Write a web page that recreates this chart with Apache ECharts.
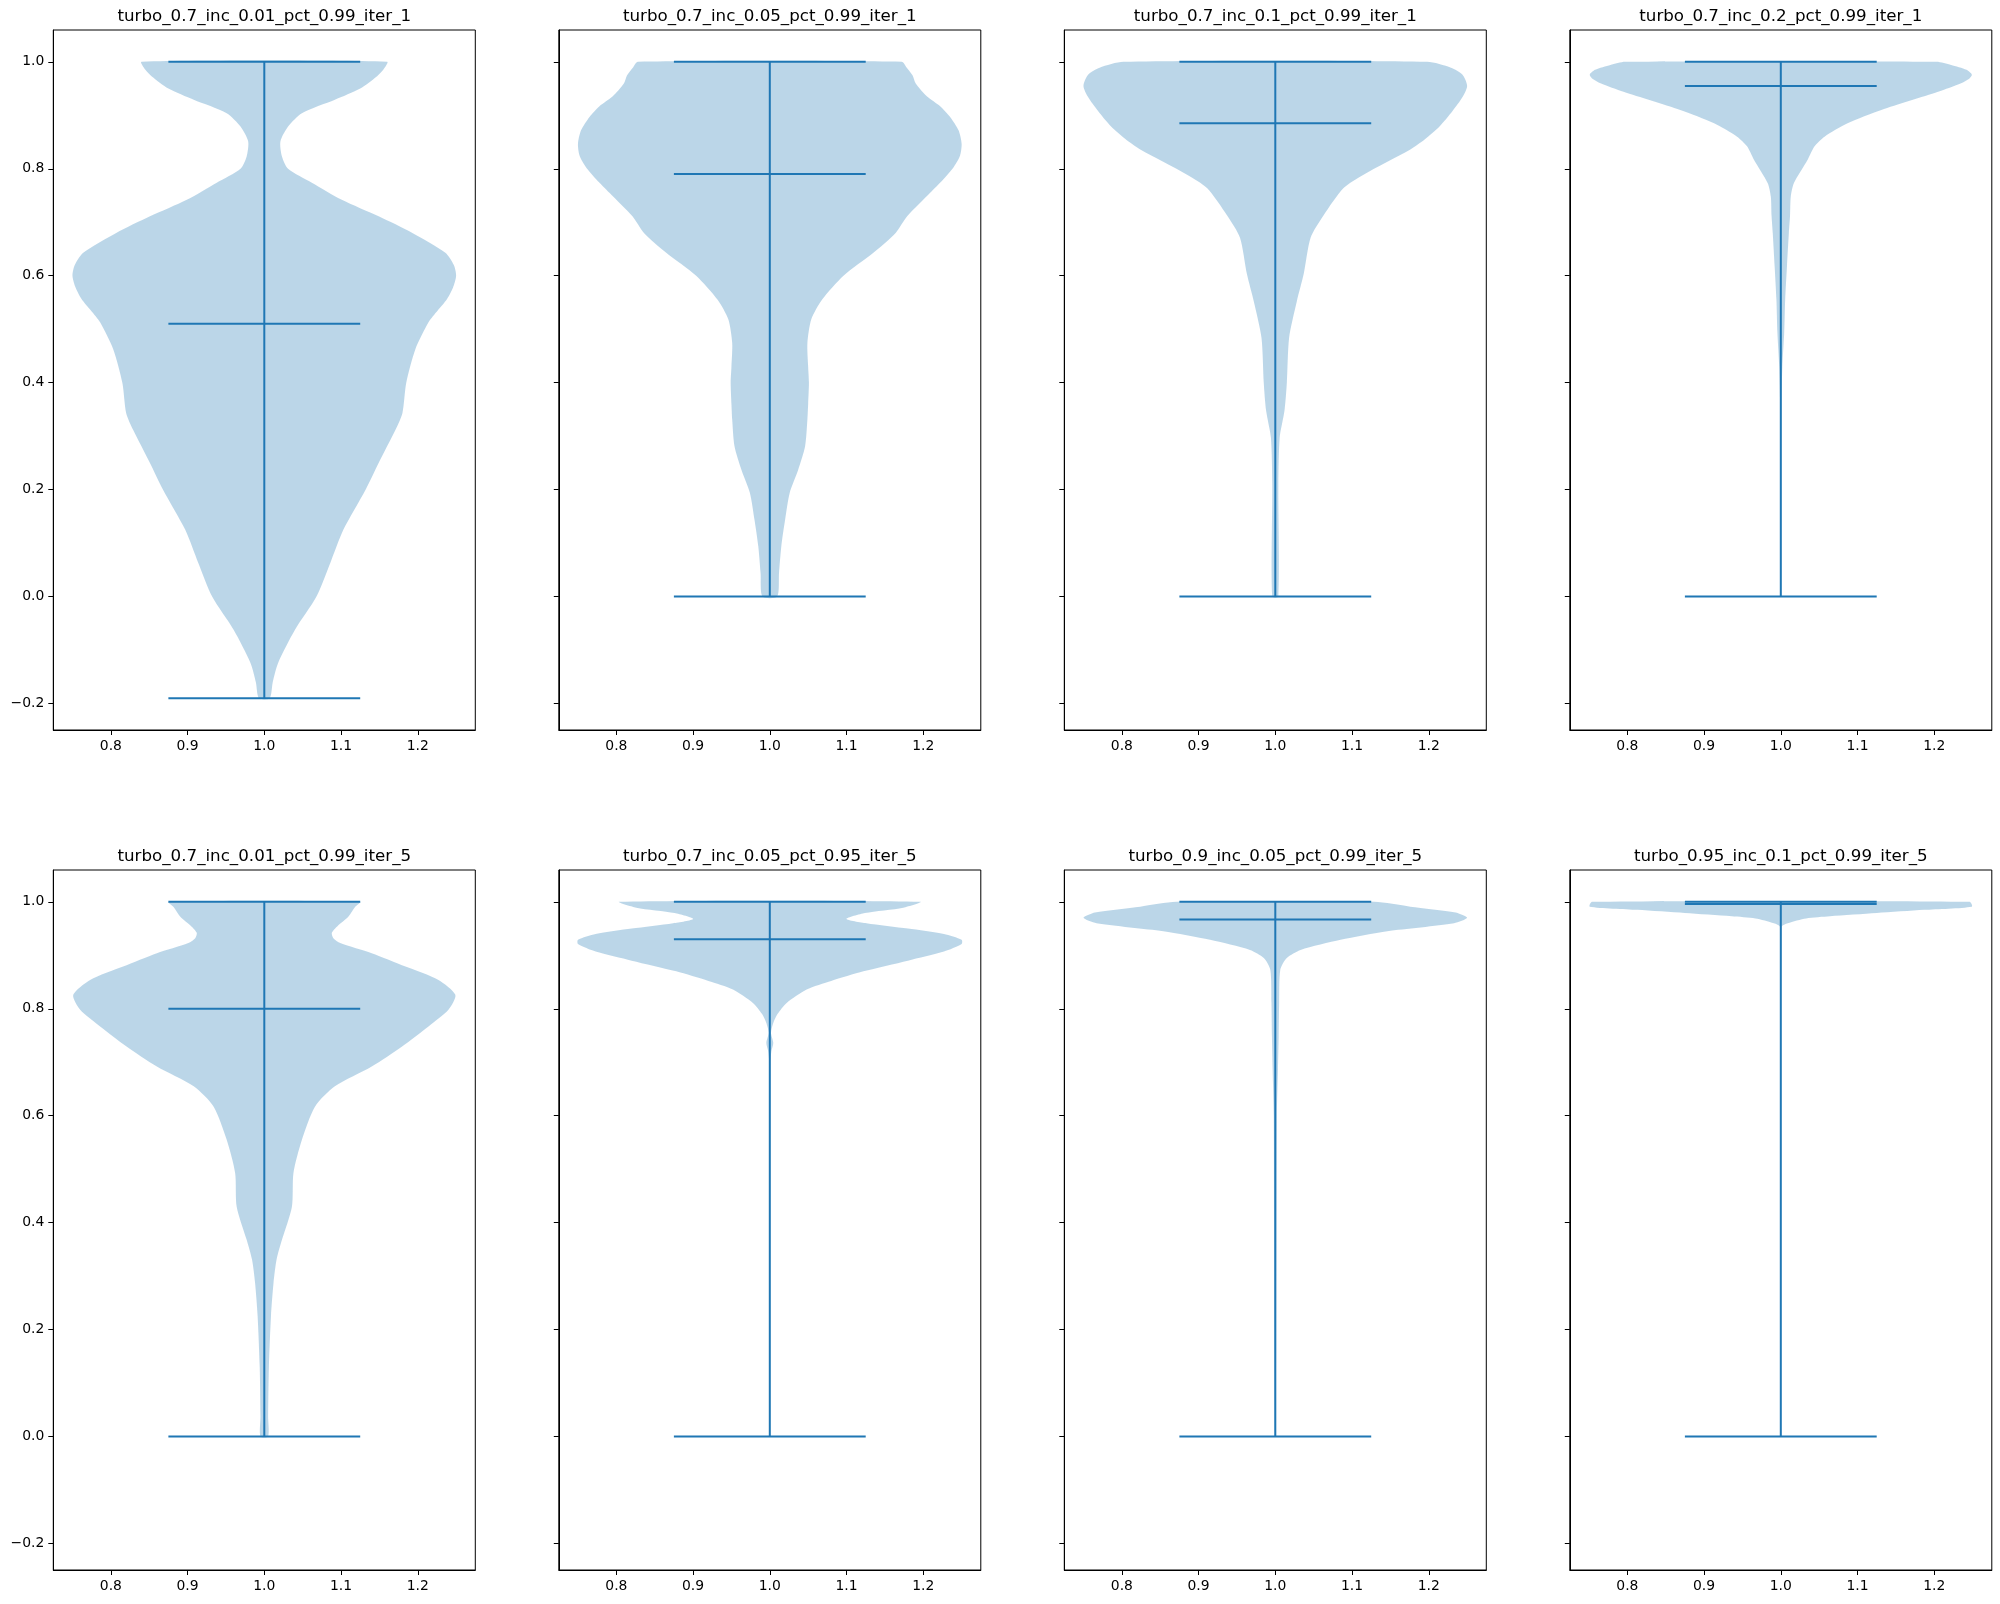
<!DOCTYPE html>
<html>
<head>
<meta charset="utf-8">
<script src="https://cdn.jsdelivr.net/npm/echarts@6/dist/echarts.min.js"></script>
<style>
  html, body { margin: 0; padding: 0; background: #fff; }
  #main { width: 2000px; height: 1604px; }
</style>
</head>
<body>
<div id="main"></div>
<script>
// violin profiles: [value, half width]
const violin1 = [[1.0,0.16],[0.985,0.155],[0.973,0.147],[0.95,0.125],[0.929,0.092],[0.904,0.049],[0.879,0.031],[0.851,0.021],[0.823,0.023],[0.8,0.031],[0.774,0.062],[0.742,0.101],[0.711,0.149],[0.68,0.193],[0.643,0.236],[0.62,0.247],[0.6,0.25],[0.578,0.246],[0.556,0.238],[0.535,0.226],[0.513,0.214],[0.463,0.197],[0.40,0.185],[0.343,0.180],[0.312,0.171],[0.25,0.149],[0.2,0.132],[0.125,0.103],[0.063,0.086],[0.0,0.068],[-0.062,0.040],[-0.124,0.018],[-0.16,0.011],[-0.19,0.007]];
const violin2 = [[1.0,0.172],[0.99,0.178],[0.975,0.186],[0.96,0.19],[0.935,0.205],[0.917,0.222],[0.897,0.235],[0.872,0.246],[0.847,0.25],[0.825,0.248],[0.804,0.24],[0.78,0.226],[0.755,0.209],[0.711,0.179],[0.68,0.164],[0.643,0.135],[0.6,0.096],[0.555,0.068],[0.518,0.054],[0.474,0.049],[0.43,0.05],[0.40,0.051],[0.36,0.05],[0.331,0.049],[0.281,0.046],[0.237,0.037],[0.194,0.026],[0.144,0.020],[0.094,0.015],[0.044,0.012],[0.0,0.0096]];
const violin3 = [[1.0,0.198],[0.989,0.229],[0.976,0.244],[0.955,0.25],[0.934,0.244],[0.908,0.231],[0.879,0.214],[0.855,0.195],[0.836,0.176],[0.789,0.115],[0.764,0.089],[0.713,0.063],[0.671,0.046],[0.603,0.037],[0.552,0.028],[0.484,0.018],[0.399,0.015],[0.348,0.012],[0.297,0.0057],[0.212,0.004],[0.0,0.004]];
const violin4 = [[1.0,0.203],[0.994,0.222],[0.985,0.242],[0.976,0.249],[0.968,0.245],[0.96,0.235],[0.944,0.205],[0.91,0.131],[0.885,0.087],[0.86,0.057],[0.842,0.044],[0.817,0.035],[0.773,0.017],[0.748,0.013],[0.711,0.012],[0.68,0.0105],[0.617,0.008],[0.555,0.0057],[0.493,0.0044],[0.43,0.002],[0.37,0.001],[0.2,0.0007],[0.0,0.0005]];
const violin5 = [[1.0,0.125],[0.99,0.118],[0.973,0.110],[0.954,0.095],[0.942,0.088],[0.932,0.09],[0.923,0.099],[0.904,0.140],[0.879,0.184],[0.854,0.227],[0.826,0.249],[0.798,0.240],[0.767,0.214],[0.730,0.180],[0.692,0.140],[0.655,0.092],[0.617,0.066],[0.555,0.049],[0.493,0.038],[0.43,0.036],[0.368,0.023],[0.331,0.016],[0.287,0.012],[0.225,0.0087],[0.131,0.006],[0.038,0.005],[0.0,0.005]];
const violin6 = [[1.0,0.196],[0.989,0.174],[0.979,0.124],[0.968,0.100],[0.96,0.126],[0.95,0.18],[0.94,0.227],[0.929,0.25],[0.921,0.25],[0.907,0.227],[0.89,0.18],[0.87,0.122],[0.852,0.08],[0.836,0.048],[0.811,0.022],[0.79,0.01],[0.773,0.0044],[0.755,0.0015],[0.736,0.0045],[0.72,0.002],[0.70,0.0008],[0.0,0.0003]];
const violin7 = [[1.0,0.129],[0.991,0.176],[0.980,0.235],[0.970,0.25],[0.960,0.233],[0.945,0.146],[0.929,0.085],[0.91,0.033],[0.895,0.015],[0.873,0.0065],[0.811,0.005],[0.748,0.0044],[0.686,0.0035],[0.6,0.002],[0.0,0.0008]];
const violin8 = [[1.0,0.246],[0.991,0.249],[0.985,0.187],[0.979,0.125],[0.973,0.064],[0.969,0.033],[0.96,0.009],[0.953,0.001],[0.0,0.0005]];

const profiles = [violin1, violin2, violin3, violin4, violin5, violin6, violin7, violin8];
const titles = [
  'turbo_0.7_inc_0.01_pct_0.99_iter_1', 'turbo_0.7_inc_0.05_pct_0.99_iter_1',
  'turbo_0.7_inc_0.1_pct_0.99_iter_1', 'turbo_0.7_inc_0.2_pct_0.99_iter_1',
  'turbo_0.7_inc_0.01_pct_0.99_iter_5', 'turbo_0.7_inc_0.05_pct_0.95_iter_5',
  'turbo_0.9_inc_0.05_pct_0.99_iter_5', 'turbo_0.95_inc_0.1_pct_0.99_iter_5'
];
const mins = [-0.19, 0, 0, 0, 0, 0, 0, 0];
const maxs = [1, 1, 1, 1, 1, 1, 1, 1];
const medians = [0.51, 0.79, 0.885, 0.955, 0.80, 0.930, 0.967, 0.996];
const xTicks = [0.8, 0.9, 1.0, 1.1, 1.2];
const yTicks = [-0.2, 0.0, 0.2, 0.4, 0.6, 0.8, 1.0];

const blue = '#1f77b4';
const font = 'DejaVu Sans';
const fmt = v => v.toFixed(1).replace('-', '\u2212');

let chart = echarts.init(document.getElementById('main'), null, { renderer: 'canvas' });

const grids = [], xAxes = [], yAxes = [], series = [], graphics = [];
for (let i = 0; i < 8; i++) {
  const col = i % 4, row = Math.floor(i / 4);
  const left = 53.3 + 505.5 * col;
  const top = row === 0 ? 30 : 870;
  grids.push({ left: left, top: top, width: 422, height: 700, show: true,
    borderColor: '#000', borderWidth: 1, backgroundColor: 'transparent' });
  xAxes.push({
    type: 'value', gridIndex: i, min: 0.725, max: 1.275,
    splitLine: { show: false },
    axisLine: { show: true, onZero: false, lineStyle: { color: '#000', width: 1 } },
    axisTick: { show: true, length: 5, customValues: xTicks, lineStyle: { color: '#000' } },
    axisLabel: { show: true, customValues: xTicks, formatter: fmt, margin: 9,
      color: '#000', fontSize: 13.9, fontFamily: font }
  });
  yAxes.push({
    type: 'value', gridIndex: i, min: -0.2495, max: 1.0595,
    splitLine: { show: false },
    axisLine: { show: true, onZero: false, lineStyle: { color: '#000', width: 1 } },
    axisTick: { show: true, length: 5, customValues: yTicks, lineStyle: { color: '#000' } },
    axisLabel: { show: col === 0, customValues: yTicks, formatter: fmt, margin: 9,
      color: '#000', fontSize: 13.9, fontFamily: font }
  });
  graphics.push({
    type: 'text', x: left + 211, y: top - 13,
    style: { text: titles[i], fill: '#000', fontSize: 16.7, fontFamily: font,
      align: 'center', verticalAlign: 'middle' }
  });

  const prof = profiles[i];
  series.push({
    type: 'custom', xAxisIndex: i, yAxisIndex: i, silent: true,
    data: [[1, medians[i]]],
    renderItem: function (params, api) {
      const pts = [];
      for (let k = 0; k < prof.length; k++) pts.push(api.coord([1 - prof[k][1], prof[k][0]]));
      for (let k = prof.length - 1; k >= 0; k--) pts.push(api.coord([1 + prof[k][1], prof[k][0]]));
      return { type: 'polygon', shape: { points: pts, smooth: 0.25 },
        style: { fill: blue, opacity: 0.3 } };
    }
  });

  const lineBase = { type: 'line', xAxisIndex: i, yAxisIndex: i, symbol: 'none', silent: true,
    lineStyle: { color: blue, width: 2 }, z: 3 };
  series.push(Object.assign({}, lineBase, { data: [[0.875, maxs[i]], [1.125, maxs[i]]] }));
  series.push(Object.assign({}, lineBase, { data: [[0.875, mins[i]], [1.125, mins[i]]] }));
  series.push(Object.assign({}, lineBase, { data: [[0.875, medians[i]], [1.125, medians[i]]] }));
  series.push(Object.assign({}, lineBase, { data: [[1, mins[i]], [1, maxs[i]]] }));
}

chart.setOption({
  animation: false,
  backgroundColor: '#fff',
  grid: grids,
  xAxis: xAxes,
  yAxis: yAxes,
  series: series,
  graphic: graphics
});
</script>
</body>
</html>
